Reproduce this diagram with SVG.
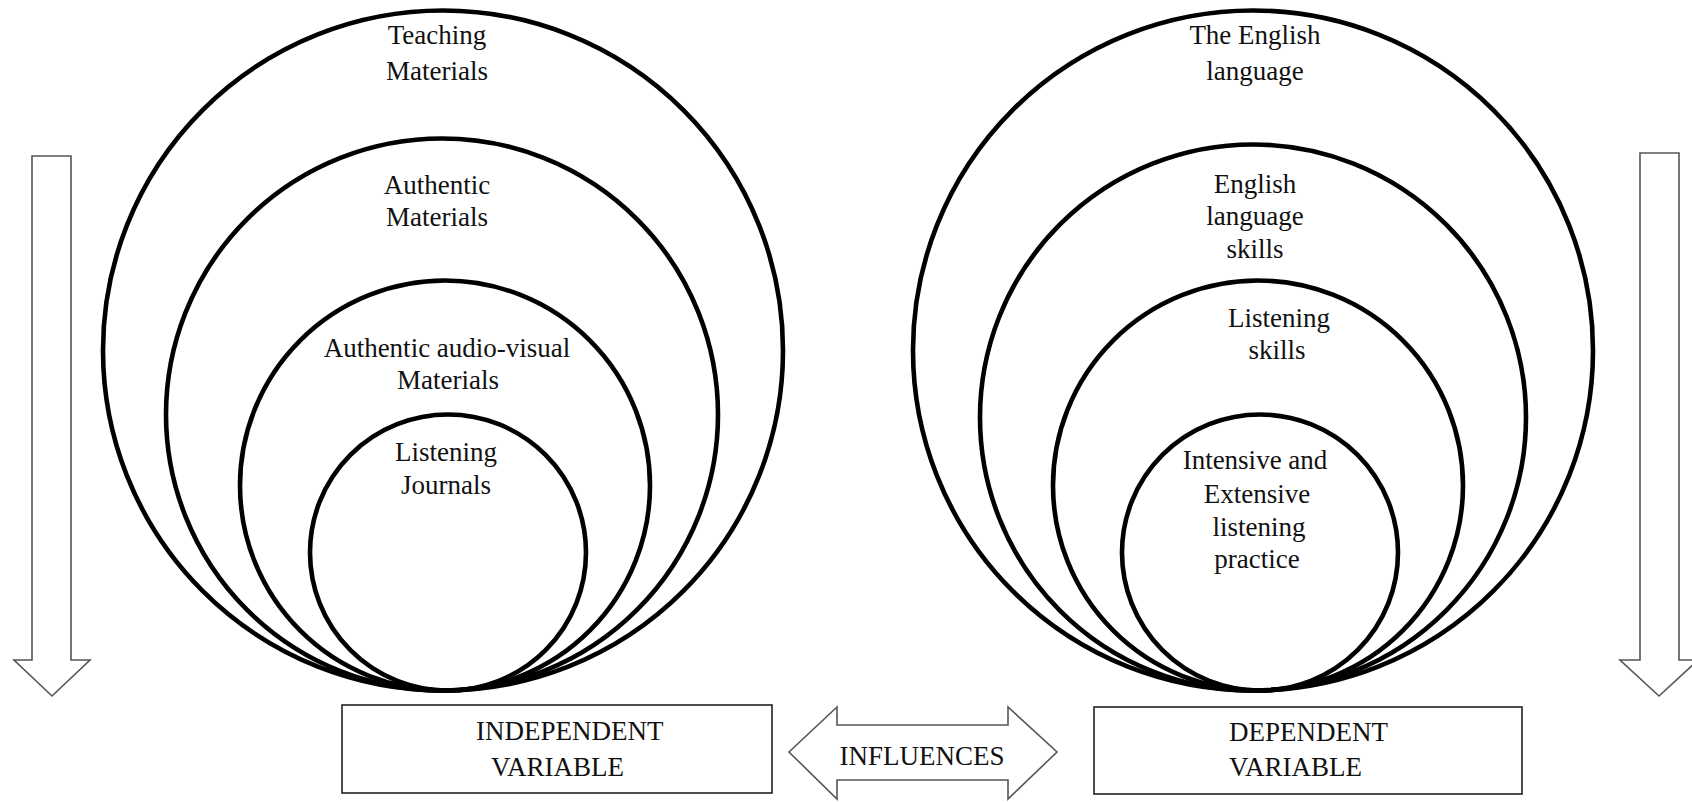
<svg xmlns="http://www.w3.org/2000/svg" width="1692" height="802" viewBox="0 0 1692 802">
<style>
.c{fill:none;stroke:#000;stroke-width:4.6}
.t{font-family:"Liberation Serif","Times New Roman",serif;font-size:27px;fill:#111;text-anchor:middle}
.ts{font-family:"Liberation Serif","Times New Roman",serif;font-size:27px;fill:#111}
.box{fill:#fff;stroke:#222;stroke-width:1.6}
.arr{fill:#fff;stroke:#555;stroke-width:1.6;stroke-linejoin:miter}
</style>
<rect width="1692" height="802" fill="#fff"/>
<g id="left-circles">
<g id="teaching-materials"><circle class="c" cx="443" cy="350.5" r="340"/><text class="t" x="437" y="44">Teaching</text><text class="t" x="437" y="80">Materials</text></g>
<g id="authentic-materials"><circle class="c" cx="442" cy="414.5" r="276"/><text class="t" x="437" y="194">Authentic</text><text class="t" x="437" y="226">Materials</text></g>
<g id="authentic-av-materials"><circle class="c" cx="445" cy="485.5" r="205"/><text class="t" x="447" y="357">Authentic audio-visual</text><text class="t" x="448" y="389">Materials</text></g>
<g id="listening-journals"><circle class="c" cx="448" cy="552.5" r="138"/><text class="t" x="446" y="461">Listening</text><text class="t" x="446" y="494">Journals</text></g>
</g>
<g id="right-circles">
<g id="english-language"><circle class="c" cx="1253" cy="350.5" r="340"/><text class="t" x="1255" y="44">The English</text><text class="t" x="1255" y="80">language</text></g>
<g id="english-skills"><circle class="c" cx="1253" cy="417.5" r="273"/><text class="t" x="1255" y="193">English</text><text class="t" x="1255" y="225">language</text><text class="t" x="1255" y="258">skills</text></g>
<g id="listening-skills"><circle class="c" cx="1258" cy="485.5" r="205"/><text class="t" x="1279" y="327">Listening</text><text class="t" x="1277" y="359">skills</text></g>
<g id="intensive-extensive"><circle class="c" cx="1260" cy="552.5" r="138"/><text class="t" x="1255" y="469">Intensive and</text><text class="t" x="1257" y="503">Extensive</text><text class="t" x="1259" y="536">listening</text><text class="t" x="1257" y="568">practice</text></g>
</g>
<g id="independent-variable"><rect class="box" x="342" y="705" width="430" height="88"/><text class="ts" x="476" y="740">INDEPENDENT</text><text class="ts" x="491" y="776">VARIABLE</text></g>
<g id="dependent-variable"><rect class="box" x="1094" y="707" width="428" height="87"/><text class="ts" x="1229" y="741">DEPENDENT</text><text class="ts" x="1229" y="776">VARIABLE</text></g>
<g id="connectors">
<polygon id="influences-arrow" class="arr" points="789,752 837,707 837,725 1008,725 1008,707 1057,752 1008,799 1008,780 837,780 837,799"/>
<polygon id="left-down-arrow" class="arr" points="32,156 71,156 71,660 90,660 52,696 14,660 32,660"/>
<polygon id="right-down-arrow" class="arr" points="1640,153 1679,153 1679,660 1698,660 1659,696 1620,660 1640,660"/>
</g>
<text class="t" x="922" y="765">INFLUENCES</text>
</svg>
